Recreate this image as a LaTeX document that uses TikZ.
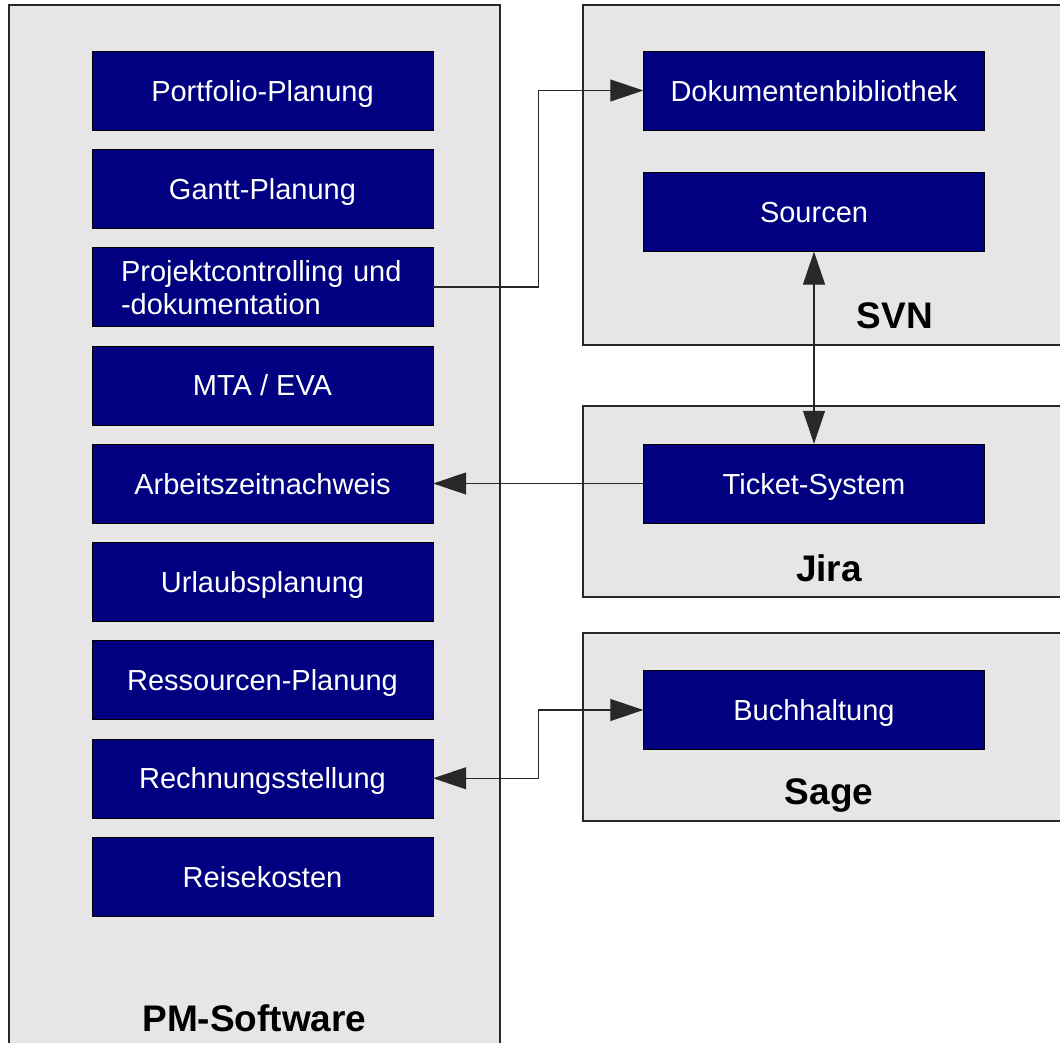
\documentclass[tikz,border=0pt]{standalone}
\usepackage{fontspec}
\setmainfont{Liberation Sans}
\usetikzlibrary{positioning}
\usetikzlibrary{arrows.meta}
\definecolor{navy}{RGB}{0,0,128}
\definecolor{color-frame}{RGB}{230,230,230}
\definecolor{color-line}{RGB}{40,40,40}

\begin{document}
\begin{tikzpicture}[x=1pt, y=-1pt, node distance=18.85pt, >={Triangle[length=33pt,width=22pt]},
  module/.style={draw=black, fill=navy, text=white, minimum width=341pt, minimum height=79pt, inner sep=0pt, align=center,
    text height=21pt, text depth=0pt, font=\fontsize{29}{33}\selectfont},
  system/.style={draw=color-line, line width=1.2pt, fill=color-frame},
  title/.style={font=\fontsize{37}{40}\selectfont\bfseries, anchor=base},
  link/.style={color-line, line width=1.1pt}]

\useasboundingbox (0,0) rectangle (1060,1042);
\clip (0,0) rectangle (1060,1042);

% the frames of the systems
\draw [system] (9,5) rectangle (500,1070);
\draw [system] (583,5) rectangle (1080,345);
\draw [system] (583,406) rectangle (1080,597);
\draw [system] (583,633) rectangle (1080,821);

\node [title] (pm) at (254.5,1031) {PM-Software};
\node [title] (svn) at (895,328) {SVN};
\node [title] (jira) at (829,581) {Jira};
\node [title] (sage) at (829,804) {Sage};

% modules of the PM software
\node [module] (portfolio) at (262.5,90.5) {Portfolio-Planung};
\node [module, below = of portfolio] (gantt) {Gantt-Planung};
\node [module, below = of gantt, text width=283pt, align=left, text height=22pt, text depth=33pt] (controlling) {Projektcontrolling und\\-dokumentation};
\node [module, below = of controlling] (mta) {MTA / EVA};
\node [module, below = of mta] (arbeitszeit) {Arbeitszeitnachweis};
\node [module, below = of arbeitszeit] (urlaub) {Urlaubsplanung};
\node [module, below = of urlaub] (ressourcen) {Ressourcen-Planung};
\node [module, below = of ressourcen] (rechnung) {Rechnungsstellung};
\node [module, below = of rechnung] (reise) {Reisekosten};

% modules of the other systems
\node [module] (dok) at (814,90.5) {Dokumentenbibliothek};
\node [module, below = 42pt of dok] (sourcen) {Sourcen};
\node [module] (ticket) at (814,483.5) {Ticket-System};
\node [module] (buch) at (814,710) {Buchhaltung};

% interfaces
\draw [link, ->] (controlling.east) -- ++(105.5,0) |- (dok.west);
\draw [link, <->] (sourcen.south) -- (ticket.north);
\draw [link, ->] (ticket.west) -- (ticket.west -| arbeitszeit.east);
\draw [link, <->] (rechnung.east) -- ++(105.5,0) |- (buch.west);

\end{tikzpicture}
\end{document}
